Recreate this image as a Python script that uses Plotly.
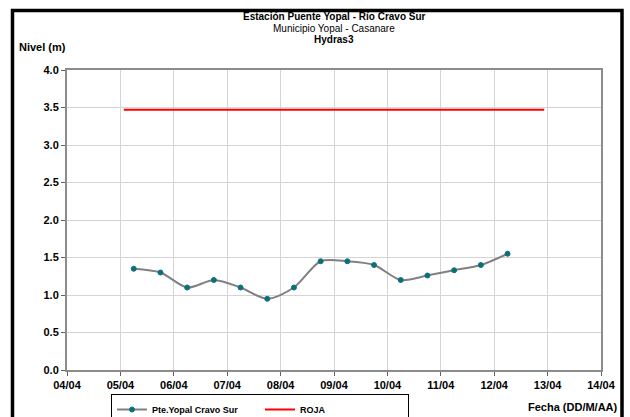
import plotly.graph_objects as go

# ---- data ----
fechas = ["2013-04-05 06:00", "2013-04-05 18:00", "2013-04-06 06:00", "2013-04-06 18:00",
          "2013-04-07 06:00", "2013-04-07 18:00", "2013-04-08 06:00", "2013-04-08 18:00",
          "2013-04-09 06:00", "2013-04-09 18:00", "2013-04-10 06:00", "2013-04-10 18:00",
          "2013-04-11 06:00", "2013-04-11 18:00", "2013-04-12 06:00"]
nivel = [1.35, 1.30, 1.10, 1.20, 1.10, 0.95, 1.10, 1.45, 1.45, 1.40, 1.20, 1.26, 1.33, 1.40, 1.55]

roja_fechas = ["2013-04-05 01:30", "2013-04-12 22:30"]
roja_nivel = [3.47, 3.47]

x_range = ["2013-04-04", "2013-04-14"]
y_ticks = [0.0, 0.5, 1.0, 1.5, 2.0, 2.5, 3.0, 3.5, 4.0]

FONT = "Liberation Sans, Arial, sans-serif"

fig = go.Figure()
fig.add_trace(go.Scatter(
    x=fechas, y=nivel, name="Pte.Yopal Cravo Sur",
    mode="lines+markers",
    line=dict(color="#808080", width=2, shape="spline", smoothing=0.8),
    marker=dict(color="#008040", size=5, line=dict(color="#1f5fbf", width=1)),
))
fig.add_trace(go.Scatter(
    x=roja_fechas, y=roja_nivel, name="ROJA", mode="lines",
    line=dict(color="#ff0000", width=2),
))

L, R, T, B = 67, 29, 70, 47
W, H = 630, 417
pw, ph = W - L - R, H - T - B

def px(xp):
    return (xp - L) / pw

def py(yp):
    return (H - B - yp) / ph

fig.update_layout(
    width=W, height=H,
    margin=dict(l=L, r=R, t=T, b=B, autoexpand=False),
    paper_bgcolor="white", plot_bgcolor="white",
    font=dict(family=FONT, size=11, color="black"),
    showlegend=True,
    legend=dict(
        orientation="h", x=px(111), y=py(394), xanchor="left", yanchor="top",
        bordercolor="black", borderwidth=1,
        font=dict(family=FONT, size=9, color="black", weight="bold"),
        entrywidth=103, entrywidthmode="pixels",
        itemwidth=30, tracegroupgap=0,
    ),
    xaxis=dict(
        type="date", range=x_range, dtick=86400000, tickformat="%d/%m",
        showgrid=True, gridcolor="#d4d4d4", gridwidth=1,
        showline=True, linecolor="#8c8c8c", linewidth=2, mirror=True,
        ticks="outside", ticklen=4, tickcolor="#606060",
        tickfont=dict(family=FONT, size=11, color="black", weight="bold"),
        zeroline=False, fixedrange=True,
    ),
    yaxis=dict(
        range=[0, 4], tickvals=y_ticks, tickformat=".1f",
        showgrid=True, gridcolor="#d4d4d4", gridwidth=1,
        showline=True, linecolor="#8c8c8c", linewidth=2, mirror=True,
        ticks="outside", ticklen=4, tickcolor="#606060",
        tickfont=dict(family=FONT, size=11, color="black", weight="bold"),
        zeroline=False, fixedrange=True,
    ),
)

ann = [
    dict(text="<b>Estación Puente Yopal - Río Cravo Sur</b>", x=0.5, y=py(17), size=10),
    dict(text="Municipio Yopal - Casanare", x=0.5, y=py(28.5), size=10),
    dict(text="<b>Hydras3</b>", x=0.5, y=py(40), size=10),
]
for a in ann:
    fig.add_annotation(text=a["text"], x=a["x"], y=a["y"], xref="paper", yref="paper",
                       xanchor="center", yanchor="middle", showarrow=False,
                       font=dict(family=FONT, size=a["size"], color="black"))

fig.add_annotation(text="<b>Nivel (m)</b>", x=px(17), y=py(47), xref="paper", yref="paper",
                   xanchor="left", yanchor="middle", showarrow=False,
                   font=dict(family=FONT, size=11, color="black"))
fig.add_annotation(text="<b>Fecha (DD/M/AA)</b>", x=px(620), y=py(407), xref="paper", yref="paper",
                   xanchor="right", yanchor="middle", showarrow=False,
                   font=dict(family=FONT, size=11, color="black"))

# outer black frame (bottom edge falls just outside the picture, as in the reference)
fig.add_shape(type="rect", xref="paper", yref="paper",
              x0=px(12.5), x1=px(622), y0=py(420), y1=py(10.5),
              line=dict(color="black", width=3.5), fillcolor="rgba(0,0,0,0)", layer="above")

fig.write_html(
    "out.html",
    config={"displayModeBar": False},
    post_script="document.body.style.margin='0';document.body.style.overflow='hidden';",
)
